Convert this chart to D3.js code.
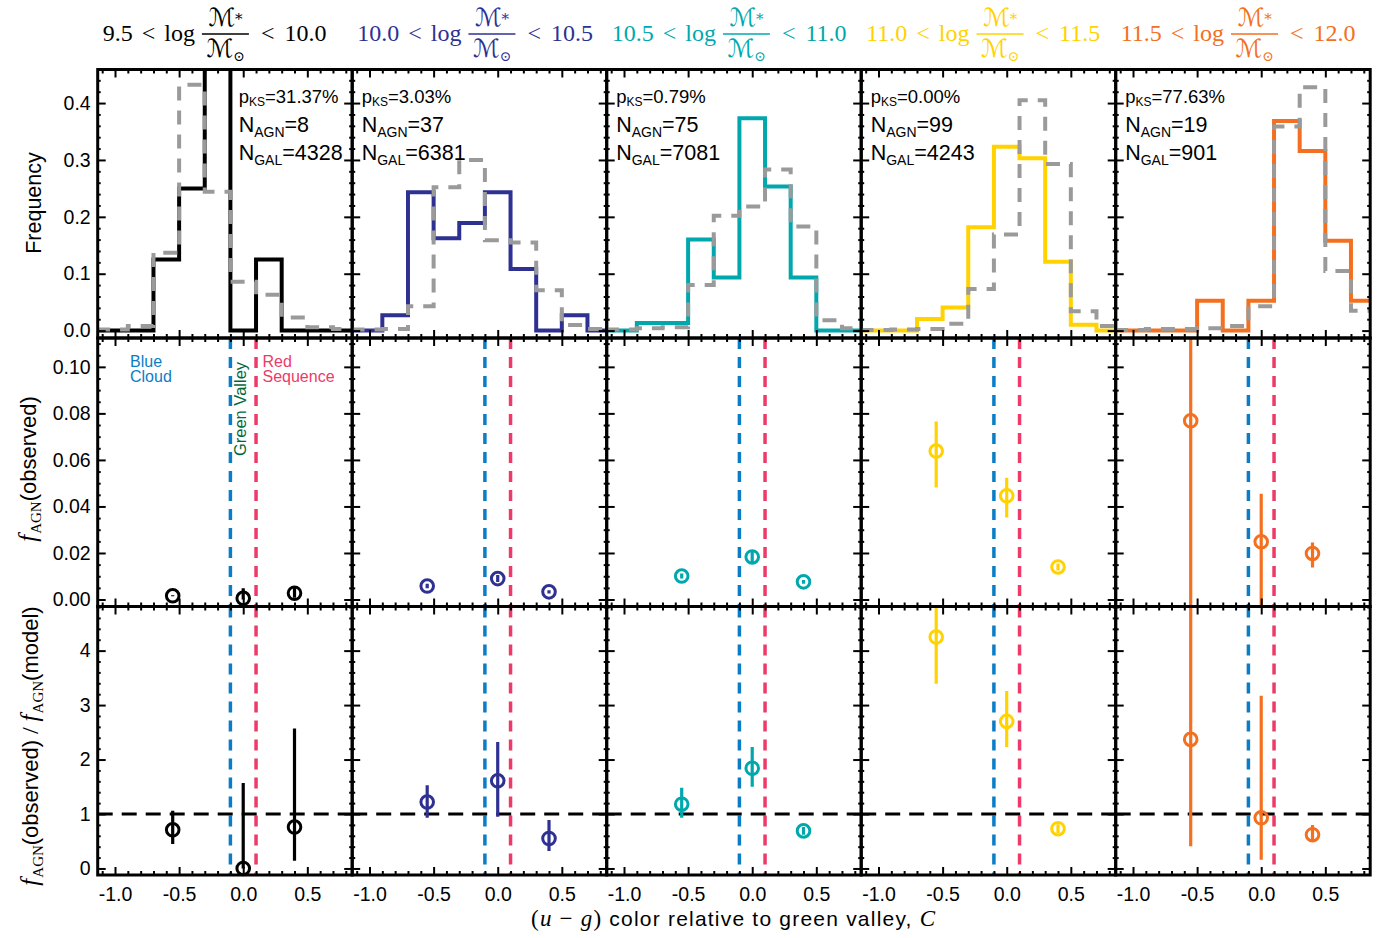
<!DOCTYPE html>
<html>
<head>
<meta charset="utf-8">
<script src="https://cdn.jsdelivr.net/npm/d3@7"></script>
<style>
  body { margin: 0; background: #fff; }
  svg { display: block; }
</style>
</head>
<body>
<svg id="fig" width="1387" height="938"></svg>
<script>
// ---- stellar-mass bins (log M*/Msun) ----
const massLow  = ["9.5", "10.0", "10.5", "11.0", "11.5"];
const massHigh = ["10.0", "10.5", "11.0", "11.5", "12.0"];
const binColors = ["#000000", "#2E3192", "#00A8AE", "#FFD200", "#F37021"];

// ---- colour histograms (u-g relative to the green valley) ----
const histEdges = [-1.1, -0.9, -0.7, -0.5, -0.3, -0.1, 0.1, 0.3, 0.5, 0.7, 0.9];
// AGN hosts: counts per colour bin
const agnCounts = [
  [0, 0, 1, 2, 4, 0, 1, 0, 0, 0],
  [0, 1, 9, 6, 7, 9, 4, 0, 1, 0],
  [0, 1, 1, 12, 7, 28, 19, 7, 0, 0],
  [0, 0, 2, 4, 18, 32, 30, 12, 1, 0],
  [0, 0, 0, 1, 0, 1, 7, 6, 3, 1]
];
// all galaxies: normalised frequency per colour bin
const galFreq = [
  [0.002, 0.008, 0.137, 0.432, 0.244, 0.086, 0.063, 0.023, 0.006, 0.003],
  [0.002, 0.003, 0.043, 0.252, 0.300, 0.159, 0.155, 0.071, 0.010, 0.003],
  [0.002, 0.004, 0.006, 0.080, 0.202, 0.218, 0.283, 0.183, 0.018, 0.004],
  [0.001, 0.002, 0.003, 0.012, 0.073, 0.169, 0.405, 0.293, 0.034, 0.008],
  [0.001, 0.003, 0.003, 0.004, 0.008, 0.043, 0.359, 0.428, 0.105, 0.035]
];
const pKS  = ["31.37", "3.03", "0.79", "0.00", "77.63"];
const nAGN = [8, 37, 75, 99, 19];
const nGAL = [4328, 6381, 7081, 4243, 901];

// ---- AGN fractions in blue cloud / green valley / red sequence ----
const colourCentres = [-0.55, 0.0, 0.4];
const fObs   = [[0.0016, 0.0005, 0.0027], [0.0058, 0.0090, 0.0033], [0.0101, 0.0183, 0.0076], [0.0638, 0.0446, 0.0140], [0.0768, 0.0248, 0.0198]];
const fObsLo = [[0.0014, 0.0000, 0.0008], [0.0048, 0.0075, 0.0026], [0.0090, 0.0160, 0.0068], [0.0481, 0.0353, 0.0125], [-0.0100, -0.0050, 0.0138]];
const fObsHi = [[0.0018, 0.0048, 0.0055], [0.0068, 0.0105, 0.0040], [0.0112, 0.0205, 0.0084], [0.0765, 0.0523, 0.0155], [0.1300, 0.0455, 0.0245]];

const fRatio   = [[0.71, 0.00, 0.76], [1.22, 1.61, 0.55], [1.18, 1.84, 0.69], [4.25, 2.70, 0.73], [2.37, 0.93, 0.62]];
const fRatioLo = [[0.45, 0.00, 0.14], [0.93, 0.95, 0.32], [0.93, 1.50, 0.62], [3.39, 2.23, 0.65], [0.41, 0.16, 0.50]];
const fRatioHi = [[1.06, 1.57, 2.57], [1.53, 2.32, 0.89], [1.48, 2.23, 0.76], [5.20, 3.26, 0.81], [6.00, 3.17, 0.80]];

// green-valley boundaries
const gvEdges = [-0.1, 0.1];

// ---- ticks ----
const xMajor = [-1.0, -0.5, 0.0, 0.5];
const xMinor = [-1.1, -0.9, -0.8, -0.7, -0.6, -0.4, -0.3, -0.2, -0.1, 0.1, 0.2, 0.3, 0.4, 0.6, 0.7, 0.8];
const freqMajor = [0.0, 0.1, 0.2, 0.3, 0.4];
const freqMinor = [0.02, 0.04, 0.06, 0.08, 0.12, 0.14, 0.16, 0.18, 0.22, 0.24, 0.26, 0.28, 0.32, 0.34, 0.36, 0.38, 0.42, 0.44];
const obsMajor = [0.00, 0.02, 0.04, 0.06, 0.08, 0.10];
const obsMinor = [0.005, 0.01, 0.015, 0.025, 0.03, 0.035, 0.045, 0.05, 0.055, 0.065, 0.07, 0.075, 0.085, 0.09, 0.095, 0.105, 0.11];
const ratioMajor = [0, 1, 2, 3, 4];
const ratioMinor = [0.2, 0.4, 0.6, 0.8, 1.2, 1.4, 1.6, 1.8, 2.2, 2.4, 2.6, 2.8, 3.2, 3.4, 3.6, 3.8, 4.2, 4.4, 4.6, 4.8];

// ---- layout ----
const svg = d3.select("#fig");
const left0 = 97.7, panelW = 254.5, rowH = 268.5;
const rowTop = [69.5, 338, 606.5];
const GV_BLUE = "#0B7DC6", GV_RED = "#EE3A69", GV_GREEN = "#00693A", GREY = "#9A9A9A";
const SANS = "'Liberation Sans', Arial, Helvetica, sans-serif";
const SERIF = "'Liberation Serif', 'Times New Roman', serif";
const SCRIPT = "'DejaVu Serif', 'DejaVu Sans', serif";

const xScales = d3.range(5).map(i =>
  d3.scaleLinear().domain([-1.135, 0.85]).range([left0 + i * panelW, left0 + (i + 1) * panelW]));
const yFreq  = d3.scaleLinear().domain([-0.013, 0.459]).range([rowTop[0] + rowH, rowTop[0]]);
const yObs   = d3.scaleLinear().domain([-0.0030, 0.1124]).range([rowTop[1] + rowH, rowTop[1]]);
const yRatio = d3.scaleLinear().domain([-0.12, 4.81]).range([rowTop[2] + rowH, rowTop[2]]);
const yScales = [yFreq, yObs, yRatio];
const yMajors = [freqMajor, obsMajor, ratioMajor];
const yMinors = [freqMinor, obsMinor, ratioMinor];
const yFormats = [d => d.toFixed(1), d => d.toFixed(2), d => d.toFixed(0)];

const defs = svg.append("defs");
for (let i = 0; i < 5; i++) for (let r = 0; r < 3; r++) {
  defs.append("clipPath").attr("id", `clip-${r}-${i}`)
    .append("rect")
    .attr("x", left0 + i * panelW).attr("y", rowTop[r])
    .attr("width", panelW).attr("height", rowH);
}

function stepPoints(values, xs, ys) {
  const pts = [[xs.domain()[0] - 0.2, values[0]]];
  values.forEach((v, k) => { pts.push([histEdges[k], v]); pts.push([histEdges[k + 1], v]); });
  pts.push([histEdges[histEdges.length - 1] + 0.2, values[values.length - 1]]);
  return d3.line().x(p => xs(p[0])).y(p => ys(p[1]))(pts);
}

for (let i = 0; i < 5; i++) {
  const xs = xScales[i];
  const col = binColors[i];
  const pL = left0 + i * panelW;

  // --- top row: colour histograms ---
  const gH = svg.append("g").attr("clip-path", `url(#clip-0-${i})`);
  const agnFreq = agnCounts[i].map(c => c / nAGN[i]);
  gH.append("path").attr("d", stepPoints(agnFreq, xs, yFreq))
    .attr("fill", "none").attr("stroke", col).attr("stroke-width", 4).attr("stroke-linejoin", "miter");
  gH.append("path").attr("d", stepPoints(galFreq[i], xs, yFreq))
    .attr("fill", "none").attr("stroke", GREY).attr("stroke-width", 4).attr("stroke-dasharray", "14,10");

  // annotations
  const ax = i === 0 ? pL + 141 : pL + 9.5;
  const tp = svg.append("text").attr("x", ax).attr("y", 103).attr("font-family", SANS).attr("font-size", 18.5);
  tp.append("tspan").text("p");
  tp.append("tspan").attr("font-size", 12).attr("dy", 3).text("KS");
  tp.append("tspan").attr("dy", -3).text(`=${pKS[i]}%`);
  [["AGN", nAGN[i], 132], ["GAL", nGAL[i], 160]].forEach(([sub, n, yy]) => {
    const t = svg.append("text").attr("x", ax).attr("y", yy).attr("font-family", SANS).attr("font-size", 21.5);
    t.append("tspan").text("N");
    t.append("tspan").attr("font-size", 14).attr("dy", 5).text(sub);
    t.append("tspan").attr("dy", -5).text(`=${n}`);
  });

  // --- green valley boundaries through the lower two rows ---
  const gvCols = [GV_BLUE, GV_RED];
  for (let r = 1; r < 3; r++) {
    const gG = svg.append("g").attr("clip-path", `url(#clip-${r}-${i})`);
    gvEdges.forEach((e, k) => {
      gG.append("line").attr("x1", xs(e)).attr("x2", xs(e))
        .attr("y1", rowTop[r]).attr("y2", rowTop[r] + rowH)
        .attr("stroke", gvCols[k]).attr("stroke-width", 3.5).attr("stroke-dasharray", "11,8");
    });
  }

  // unity line for the ratio row
  svg.append("line").attr("x1", pL).attr("x2", pL + panelW)
    .attr("y1", yRatio(1)).attr("y2", yRatio(1))
    .attr("stroke", "#000").attr("stroke-width", 3).attr("stroke-dasharray", "15,9");

  // --- middle and bottom rows: points with error bars ---
  const rowsData = [[fObs, fObsLo, fObsHi, yObs], [fRatio, fRatioLo, fRatioHi, yRatio]];
  rowsData.forEach(([val, lo, hi, ys], rr) => {
    const r = rr + 1;
    const gE = svg.append("g").attr("clip-path", `url(#clip-${r}-${i})`);
    colourCentres.forEach((c, k) => {
      gE.append("line").attr("x1", xs(c)).attr("x2", xs(c))
        .attr("y1", ys(lo[i][k])).attr("y2", ys(hi[i][k]))
        .attr("stroke", col).attr("stroke-width", 3.2);
    });
    colourCentres.forEach((c, k) => {
      svg.append("circle").attr("cx", xs(c)).attr("cy", ys(val[i][k])).attr("r", 6.3)
        .attr("fill", "none").attr("stroke", col).attr("stroke-width", 3);
    });
  });

  // --- axes and frames ---
  for (let r = 0; r < 3; r++) {
    const ys = yScales[r];
    const top = rowTop[r], bot = rowTop[r] + rowH;
    const styleAxis = g => {
      g.select(".domain").remove();
      g.selectAll("line").attr("stroke-width", 2);
      g.attr("font-family", SANS).attr("font-size", 19.5);
    };
    svg.append("g").attr("transform", `translate(0,${bot})`)
      .call(d3.axisBottom(xs).tickValues(xMajor).tickSize(-8).tickPadding(12)
        .tickFormat(r === 2 ? (d => d.toFixed(1)) : () => ""))
      .call(styleAxis);
    svg.append("g").attr("transform", `translate(0,${bot})`)
      .call(d3.axisBottom(xs).tickValues(xMinor).tickSize(-4).tickFormat(() => "")).call(styleAxis);
    svg.append("g").attr("transform", `translate(0,${top})`)
      .call(d3.axisTop(xs).tickValues(xMajor).tickSize(-8).tickFormat(() => "")).call(styleAxis);
    svg.append("g").attr("transform", `translate(0,${top})`)
      .call(d3.axisTop(xs).tickValues(xMinor).tickSize(-4).tickFormat(() => "")).call(styleAxis);

    svg.append("g").attr("transform", `translate(${pL},0)`)
      .call(d3.axisLeft(ys).tickValues(yMajors[r]).tickSize(-8).tickPadding(7)
        .tickFormat(i === 0 ? yFormats[r] : () => ""))
      .call(styleAxis);
    svg.append("g").attr("transform", `translate(${pL},0)`)
      .call(d3.axisLeft(ys).tickValues(yMinors[r]).tickSize(-3).tickFormat(() => "")).call(styleAxis);
    svg.append("g").attr("transform", `translate(${pL + panelW},0)`)
      .call(d3.axisRight(ys).tickValues(yMajors[r]).tickSize(-8).tickFormat(() => "")).call(styleAxis);
    svg.append("g").attr("transform", `translate(${pL + panelW},0)`)
      .call(d3.axisRight(ys).tickValues(yMinors[r]).tickSize(-3).tickFormat(() => "")).call(styleAxis);

    svg.append("rect").attr("x", pL).attr("y", top).attr("width", panelW).attr("height", rowH)
      .attr("fill", "none").attr("stroke", "#000").attr("stroke-width", 3);
  }

  // --- mass-bin title: lo < log M*/Msun < hi ---
  const base = 41, fs = 24;
  const piece = (x, s) => svg.append("text").attr("x", x).attr("y", base).attr("fill", col)
    .attr("font-family", SERIF).attr("font-size", fs).text(s);
  let cx = pL + 5;
  cx += piece(cx, massLow[i]).node().getComputedTextLength() + 9;
  cx += piece(cx, "<").node().getComputedTextLength() + 9;
  cx += piece(cx, "log").node().getComputedTextLength() + 7;
  const fw = 47, fmid = cx + fw / 2;
  const num = svg.append("text").attr("x", fmid).attr("y", 26).attr("text-anchor", "middle")
    .attr("fill", col).attr("font-family", SCRIPT).attr("font-size", 25);
  num.append("tspan").attr("font-style", "italic").text("ℳ");
  num.append("tspan").attr("font-size", 15).attr("dy", -2).text("*");
  svg.append("line").attr("x1", cx).attr("x2", cx + fw).attr("y1", 34).attr("y2", 34)
    .attr("stroke", col).attr("stroke-width", 1.4);
  const den = svg.append("text").attr("x", fmid).attr("y", 57).attr("text-anchor", "middle")
    .attr("fill", col).attr("font-family", SCRIPT).attr("font-size", 25);
  den.append("tspan").attr("font-style", "italic").text("ℳ");
  den.append("tspan").attr("font-size", 14).attr("dy", 4).text("⊙");
  cx += fw + 12;
  cx += piece(cx, "<").node().getComputedTextLength() + 10;
  piece(cx, massHigh[i]);
}

// ---- region labels in the first panel ----
const bc = svg.append("text").attr("font-family", SANS).attr("font-size", 16).attr("fill", GV_BLUE);
bc.append("tspan").attr("x", 130).attr("y", 367).text("Blue");
bc.append("tspan").attr("x", 130).attr("y", 382).text("Cloud");
const rs = svg.append("text").attr("font-family", SANS).attr("font-size", 16).attr("fill", GV_RED);
rs.append("tspan").attr("x", 262.5).attr("y", 367).text("Red");
rs.append("tspan").attr("x", 262.5).attr("y", 382).text("Sequence");
svg.append("text").attr("transform", `translate(246,409) rotate(-90)`).attr("text-anchor", "middle")
  .attr("font-family", SANS).attr("font-size", 16.5).attr("fill", GV_GREEN).text("Green Valley");

// ---- axis titles ----
svg.append("text").attr("transform", "translate(41,203) rotate(-90)").attr("text-anchor", "middle")
  .attr("font-family", SANS).attr("font-size", 21.5).text("Frequency");

function fAgn(t) {
  t.append("tspan").attr("font-family", SERIF).attr("font-style", "italic").attr("font-size", 25).text("f");
  t.append("tspan").attr("font-family", SERIF).attr("font-size", 15).attr("dy", 5).attr("dx", 1).text("AGN");
}
const yl2 = svg.append("text").attr("transform", "translate(36,469) rotate(-90)").attr("text-anchor", "middle")
  .attr("font-family", SANS).attr("font-size", 22);
fAgn(yl2);
yl2.append("tspan").attr("dy", -5).text("(observed)");

const yl3 = svg.append("text").attr("transform", "translate(38,746) rotate(-90)").attr("text-anchor", "middle")
  .attr("font-family", SANS).attr("font-size", 22);
fAgn(yl3);
yl3.append("tspan").attr("dy", -5).text("(observed)");
yl3.append("tspan").attr("font-family", SERIF).attr("font-size", 24).text(" / ");
fAgn(yl3);
yl3.append("tspan").attr("dy", -5).text("(model)");

const xl = svg.append("text").attr("x", 733).attr("y", 926).attr("text-anchor", "middle")
  .attr("font-family", SANS).attr("font-size", 21)
  .attr("textLength", 404).attr("lengthAdjust", "spacing");
const mathPart = (s, italic) => xl.append("tspan").attr("font-family", SERIF)
  .attr("font-style", italic ? "italic" : "normal").attr("font-size", 23).text(s);
mathPart("(", false); mathPart("u", true); mathPart(" − ", false); mathPart("g", true); mathPart(")", false);
xl.append("tspan").text(" color relative to green valley, ");
mathPart("C", true);
</script>
</body>
</html>
